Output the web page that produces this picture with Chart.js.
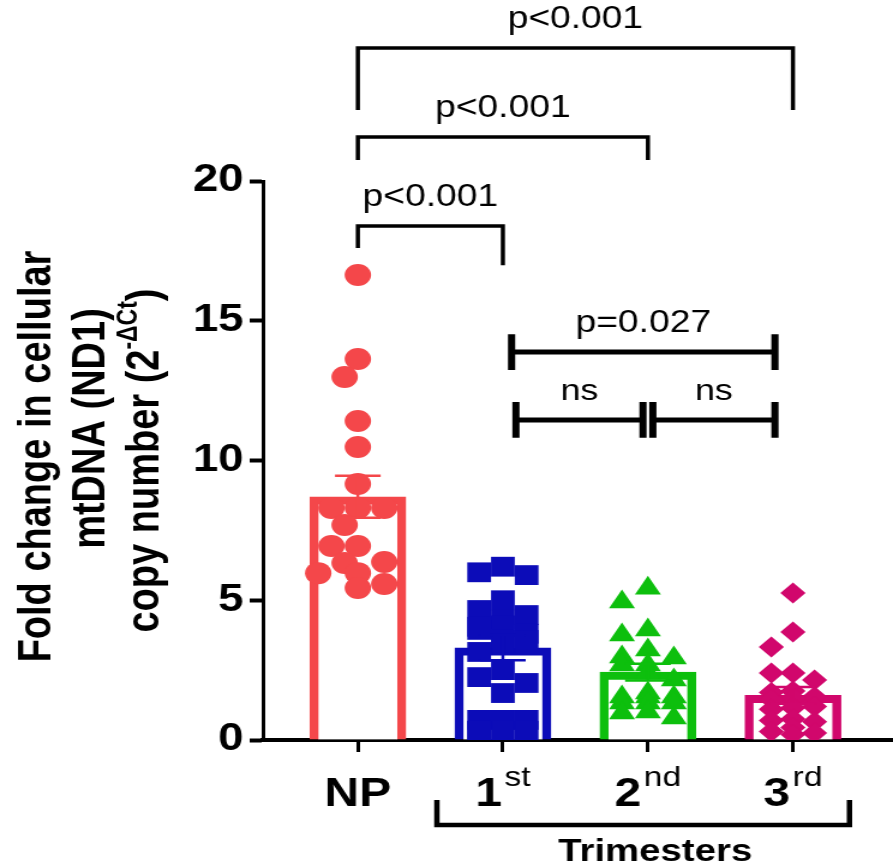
<!DOCTYPE html>
<html>
<head>
<meta charset="utf-8">
<title>mtDNA copy number by trimester</title>
<script src="https://cdn.jsdelivr.net/npm/chart.js@4.4.1/dist/chart.umd.min.js"></script>
<style>
  html, body { margin: 0; padding: 0; background: #fff; }
  #chart { display: block; }
</style>
</head>
<body>
<!-- the source figure is stretched sideways by about 1.2, so the canvas is drawn
     744 wide and shown 893 wide -->
<canvas id="chart" width="744" height="865" style="width:893px;height:865px"></canvas>
<script>
// ---- data ----
const groups = ["NP", "1", "2", "3"];
const groupSup = ["", "st", "nd", "rd"];
const barMeans = [8.7, 3.3, 2.43, 1.6];
const barSems = [0.75, 0.45, 0.3, 0.3];

const npValues = [16.64, 13.63, 12.99, 11.41, 10.48, 9.16, 8.3, 8.3, 8.3, 7.69,
                  6.94, 6.94, 6.37, 6.33, 5.97, 5.97, 5.58, 5.44];
const firstValues = [6.2, 6.0, 5.9, 5.0, 4.65, 4.47, 4.3, 4.1, 4.05, 3.94, 3.8, 3.6,
                     3.58, 3.47, 3.15, 2.5, 2.25, 2.04, 1.68, 0.72, 0.72, 0.72, 0.72,
                     0.33, 0.33, 0.33, 0.33];
const secondValues = [5.43, 4.94, 3.94, 3.76, 3.22, 2.97, 2.93, 2.68, 2.68, 2.4, 2.15,
                      1.68, 1.54, 1.54, 1.54, 1.32, 1.32, 1.32, 1.0, 0.97, 0.79];
const thirdValues = [5.26, 3.86, 3.33, 2.4, 2.4, 2.15, 1.75, 1.7, 1.55, 1.5, 1.45,
                     1.2, 1.15, 1.1, 0.75, 0.7, 0.65, 0.45, 0.3, 0.25, 0.2];
const groupValues = [npValues, firstValues, secondValues, thirdValues];

// comparisons: [group a, group b] and the p label
const pairs = [[0, 3], [0, 2], [0, 1], [1, 3], [1, 2], [2, 3]];
const pLabels = ["p<0.001", "p<0.001", "p<0.001", "p=0.027", "ns", "ns"];

// ---- looks ----
const FONT = "'Liberation Sans', Arial, sans-serif";
const groupColors = ["#f4474a", "#0c0cb8", "#0dbf0d", "#d1076c"];
const markers = [
  { style: "circle", radius: 11, hx: 11, hy: 11, round: true },
  { style: "rect", radius: 14, hx: 9.9, hy: 9.9 },
  { style: "triangle", radius: 12.5, hx: 10.8, hy: 9.4 },
  { style: "rectRot", radius: 10.5, hx: 9, hy: 9 },
];
// bracket geometry, one entry per pair (y in axis units, x insets in group units)
const bracketLayout = [
  { kind: "open", level: 24.76, drop: [2.22, 2.22], inset: [0, 0], font: 31 },
  { kind: "open", level: 21.57, drop: [0.82, 0.82], inset: [0, 0], font: 31 },
  { kind: "open", level: 18.39, drop: [0.79, 1.4], inset: [0, 0], font: 31 },
  { kind: "capped", level: 13.88, drop: [0.64, 0.64], inset: [0.06, 0.124], font: 31 },
  { kind: "capped", level: 11.45, drop: [0.64, 0.64], inset: [0.09, 0.034], font: 30 },
  { kind: "capped", level: 11.45, drop: [0.64, 0.64], inset: [0.034, 0.124], font: 30 },
];
const titleLines = ["Fold change in cellular", "mtDNA (ND1)", "copy number (2"];

const annotate = {
  id: "annotate",
  afterDatasetsDraw(chart) {
    const { ctx, scales: { x, y } } = chart;
    ctx.save();

    // mean +/- SEM
    ctx.lineWidth = 2.5;
    groups.forEach((g, i) => {
      const cx = x.getPixelForValue(i);
      const top = y.getPixelForValue(barMeans[i] + barSems[i]);
      const bot = y.getPixelForValue(barMeans[i] - barSems[i]);
      ctx.strokeStyle = groupColors[i];
      ctx.beginPath();
      ctx.moveTo(cx, top); ctx.lineTo(cx, bot);
      ctx.moveTo(cx - 19, top); ctx.lineTo(cx + 19, top);
      ctx.moveTo(cx - 19, bot); ctx.lineTo(cx + 19, bot);
      ctx.stroke();
    });

    // significance brackets
    ctx.strokeStyle = "#000";
    ctx.fillStyle = "#000";
    ctx.textAlign = "center";
    ctx.textBaseline = "alphabetic";
    pairs.forEach(([a, b], k) => {
      const L = bracketLayout[k];
      const x1 = x.getPixelForValue(a + L.inset[0]);
      const x2 = x.getPixelForValue(b - L.inset[1]);
      const yl = y.getPixelForValue(L.level);
      ctx.beginPath();
      if (L.kind === "open") {
        ctx.lineWidth = 3.5;
        ctx.moveTo(x1, y.getPixelForValue(L.level - L.drop[0]));
        ctx.lineTo(x1, yl);
        ctx.lineTo(x2, yl);
        ctx.lineTo(x2, y.getPixelForValue(L.level - L.drop[1]));
        ctx.stroke();
      } else {
        ctx.lineWidth = 5;
        ctx.moveTo(x1, yl); ctx.lineTo(x2, yl);
        ctx.stroke();
        ctx.lineWidth = 6;
        ctx.beginPath();
        ctx.moveTo(x1, y.getPixelForValue(L.level + L.drop[0]));
        ctx.lineTo(x1, y.getPixelForValue(L.level - L.drop[0]));
        ctx.moveTo(x2, y.getPixelForValue(L.level + L.drop[1]));
        ctx.lineTo(x2, y.getPixelForValue(L.level - L.drop[1]));
        ctx.stroke();
      }
      ctx.font = `${L.font}px ${FONT}`;
      ctx.fillText(pLabels[k], (x1 + x2) / 2, yl - 20);
    });
    ctx.restore();
  },

  afterDraw(chart) {
    const { ctx, scales: { x }, chartArea } = chart;
    const bottom = chartArea.bottom;
    ctx.save();
    ctx.fillStyle = "#000";
    ctx.strokeStyle = "#000";

    // category labels with ordinal superscripts
    ctx.textBaseline = "alphabetic";
    ctx.textAlign = "left";
    groups.forEach((g, i) => {
      const cx = x.getPixelForValue(i);
      ctx.font = `bold 40px ${FONT}`;
      const wMain = ctx.measureText(g).width;
      ctx.font = `28px ${FONT}`;
      const wSup = groupSup[i] ? ctx.measureText(groupSup[i]).width + 2 : 0;
      const start = cx - (wMain + wSup) / 2;
      ctx.font = `bold 40px ${FONT}`;
      ctx.fillText(g, start, bottom + 66);
      if (groupSup[i]) {
        ctx.font = `28px ${FONT}`;
        ctx.fillText(groupSup[i], start + wMain + 2, bottom + 46);
      }
    });

    // "Trimesters" bracket under the axis
    const tx1 = x.getPixelForValue(0.545);
    const tx2 = x.getPixelForValue(3.39);
    ctx.lineWidth = 4.5;
    ctx.beginPath();
    ctx.moveTo(tx1, bottom + 60);
    ctx.lineTo(tx1, bottom + 85);
    ctx.lineTo(tx2, bottom + 85);
    ctx.lineTo(tx2, bottom + 60);
    ctx.stroke();
    ctx.textAlign = "center";
    ctx.font = `bold 32px ${FONT}`;
    ctx.fillText("Trimesters", x.getPixelForValue(2.05), bottom + 121);

    // rotated y title, three lines
    const mid = (chartArea.top + chartArea.bottom) / 2;
    const lineX = [31.7, 76.7, 121.7];
    const lineShift = [-4, -32, 0];
    ctx.textBaseline = "middle";
    titleLines.forEach((t, k) => {
      ctx.save();
      ctx.translate(lineX[k], mid + lineShift[k]);
      ctx.rotate(-Math.PI / 2);
      if (k < 2) {
        ctx.textAlign = "center";
        ctx.font = `bold 38px ${FONT}`;
        ctx.fillText(t, 0, 0);
      } else {
        ctx.textAlign = "left";
        ctx.font = `bold 38px ${FONT}`;
        const w1 = ctx.measureText(t).width;
        const w3 = ctx.measureText(")").width;
        ctx.font = `bold 23px ${FONT}`;
        const w2 = ctx.measureText("-\u0394Ct").width;
        let p = -(w1 + w2 + w3) / 2;
        ctx.font = `bold 38px ${FONT}`;
        ctx.fillText(t, p, 0);
        p += w1;
        ctx.font = `bold 23px ${FONT}`;
        ctx.fillText("-\u0394Ct", p, -14);
        p += w2;
        ctx.font = `bold 38px ${FONT}`;
        ctx.fillText(")", p, 0);
      }
      ctx.restore();
    });
    ctx.restore();
  },
};

const chart = new Chart(document.getElementById("chart"), {
  type: "bar",
  data: {
    datasets: [
      {
        type: "bar",
        data: groups.map((g, i) => ({ x: i, y: barMeans[i] })),
        backgroundColor: "#fff",
        borderColor: groupColors,
        borderWidth: { top: 8, left: 7.5, right: 7.5, bottom: 0 },
        barThickness: 80,
        order: 3,
      },
      ...groupValues.map((vals, i) => ({
        type: "scatter",
        data: vals.map((v) => ({ x: i, y: v })),
        pointStyle: markers[i].style,
        pointRadius: markers[i].radius,
        backgroundColor: groupColors[i],
        borderWidth: 0,
        order: 2,
      })),
    ],
  },
  options: {
    responsive: false,
    animation: false,
    events: [],
    layout: { autoPadding: false, padding: { top: 181, left: 0, right: 0, bottom: 0 } },
    plugins: { legend: { display: false }, tooltip: { enabled: false } },
    scales: {
      x: {
        type: "linear",
        min: -0.655,
        max: 3.69,
        offset: false,
        afterBuildTicks: (s) => { s.ticks = groups.map((g, i) => ({ value: i })); },
        afterFit: (s) => { s.height = 125; s.paddingLeft = 0; s.paddingRight = 0; },
        ticks: { display: false },
        grid: { drawOnChartArea: false, drawTicks: true, tickLength: 12, tickWidth: 3, tickColor: "#000", offset: false },
        border: { display: true, color: "#000", width: 4 },
      },
      y: {
        min: 0,
        max: 20,
        afterFit: (s) => { s.width = 219; },
        ticks: { stepSize: 5, color: "#000", padding: 5, font: { family: FONT, size: 38, weight: "bold" } },
        grid: { drawOnChartArea: false, tickLength: 11, tickWidth: 4, tickColor: "#000" },
        border: { display: true, color: "#000", width: 3 },
      },
    },
  },
  plugins: [annotate],
});

// Spread the points sideways like a GraphPad scatter: each point takes the
// nearest free slot next to the group centre, tallest values first.
function swarmOffsets(values, spec, maxOff) {
  const yScale = chart.scales.y;
  const step = spec.hx;
  const cands = [0];
  for (let k = 1; k * step <= maxOff; k++) cands.push(-k * step, k * step);
  const placed = [];
  const out = new Array(values.length);
  const order = values.map((v, i) => i).sort((a, b) => values[b] - values[a]);
  order.forEach((i) => {
    const py = yScale.getPixelForValue(values[i]);
    let best = 0;
    let bestHits = Infinity;
    for (const c of cands) {
      let hits = 0;
      placed.forEach((p) => {
        const dx = (p.x - c) / (2 * spec.hx);
        const dy = (p.y - py) / (2 * spec.hy);
        const hit = spec.round ? dx * dx + dy * dy < 0.85 : Math.abs(dx) < 0.9 && Math.abs(dy) < 0.9;
        if (hit) hits++;
      });
      if (hits < bestHits) { best = c; bestHits = hits; }
      if (hits === 0) break;
    }
    placed.push({ x: best, y: py });
    out[i] = best;
  });
  return out;
}

const pxPerGroup = chart.scales.x.getPixelForValue(1) - chart.scales.x.getPixelForValue(0);
groupValues.forEach((vals, i) => {
  const off = swarmOffsets(vals, markers[i], 33);
  chart.data.datasets[i + 1].data = vals.map((v, j) => ({ x: i + off[j] / pxPerGroup, y: v }));
});
chart.update("none");
</script>
</body>
</html>
